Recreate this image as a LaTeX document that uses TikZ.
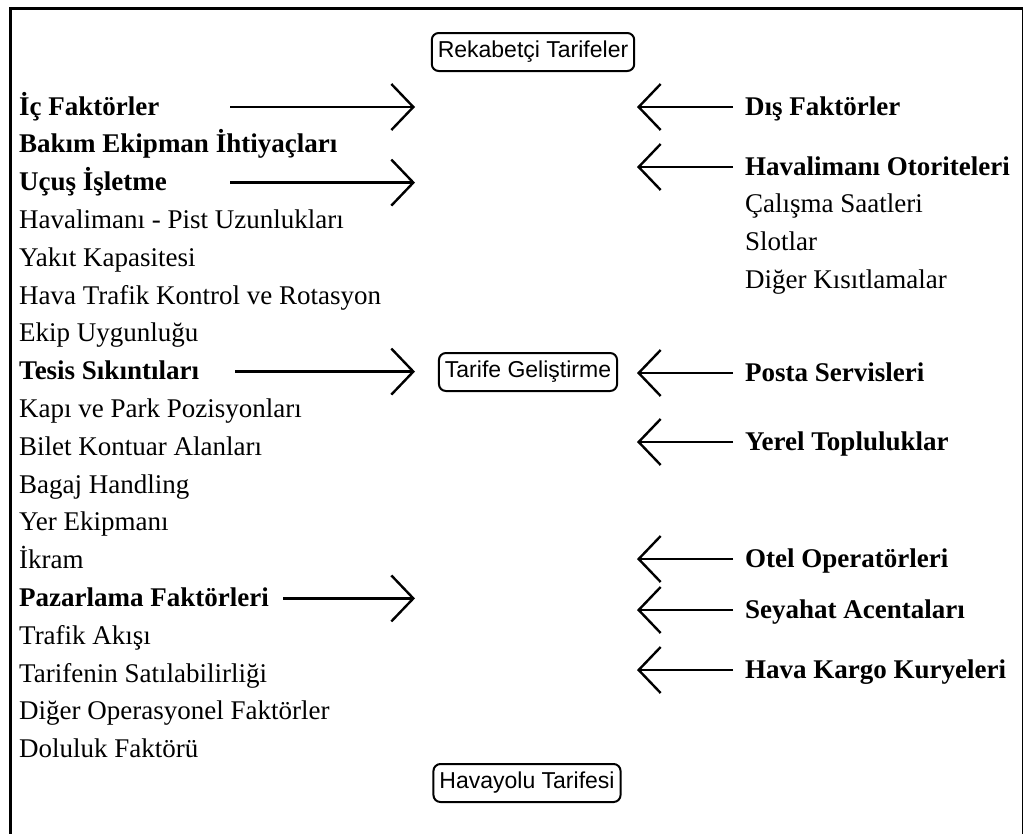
\documentclass[tikz,border=0pt]{standalone}
\usepackage{fontspec}
\setmainfont{Liberation Serif}
\setsansfont{Liberation Sans}
\usetikzlibrary{arrows.meta}

\begin{document}
\begin{tikzpicture}[x=1pt, y=-1pt,
    item/.style={anchor=base west, inner sep=0pt,
      font=\fontsize{27}{30}\selectfont},
    head/.style={item, font=\fontsize{27}{30}\selectfont\bfseries},
    tarif/.style={draw, line width=2pt, rounded corners=7pt,
      minimum height=38pt, inner xsep=6pt,
      font=\sffamily\fontsize{23}{26}\selectfont},
    flow/.style={->, >={Straight Barb[length=22pt, width=46pt]},
      line width=2.4pt}]
    \useasboundingbox (0,0) rectangle (1024,833);

    % frame, open at the bottom
    \draw [line width=3pt] (10.5,840) -- (10.5,8.5) -- (1022.5,8.5);
    \draw [line width=1pt] (1022.5,8.5) -- (1022.5,840);

    % the three boxes
    \node [tarif] (rekabet) at (533,52) {Rekabetçi Tarifeler};
    \node [tarif] (gelistirme) at (528,372) {Tarife Geliştirme};
    \node [tarif] (havayolu) at (527,783) {Havayolu Tarifesi};

    % internal factors
    \node [head] (ic) at (19,115) {İç Faktörler};
    \node [head] (bakim) at (19,152.8) {Bakım Ekipman İhtiyaçları};
    \node [head] (ucus) at (19,190.6) {Uçuş İşletme};
    \node [item] (pist) at (19,228.4) {Havalimanı - Pist Uzunlukları};
    \node [item] (yakit) at (19,266.2) {Yakıt Kapasitesi};
    \node [item] (atc) at (19,304) {Hava Trafik Kontrol ve Rotasyon};
    \node [item] (ekip) at (19,341.8) {Ekip Uygunluğu};
    \node [head] (tesis) at (19,379.6) {Tesis Sıkıntıları};
    \node [item] (kapi) at (19,417.4) {Kapı ve Park Pozisyonları};
    \node [item] (bilet) at (19,455.2) {Bilet Kontuar Alanları};
    \node [item] (bagaj) at (19,493) {Bagaj Handling};
    \node [item] (yer) at (19,530.8) {Yer Ekipmanı};
    \node [item] (ikram) at (19,568.6) {İkram};
    \node [head] (pazar) at (19,606.4) {Pazarlama Faktörleri};
    \node [item] (trafik) at (19,644.2) {Trafik Akışı};
    \node [item] (satis) at (19,682) {Tarifenin Satılabilirliği};
    \node [item] (diger) at (19,719.8) {Diğer Operasyonel Faktörler};
    \node [item] (doluluk) at (19,757.6) {Doluluk Faktörü};

    % external factors
    \node [head] (dis) at (745,115) {Dış Faktörler};
    \node [head] (otorite) at (745,175) {Havalimanı Otoriteleri};
    \node [item] (calisma) at (745,212.8) {Çalışma Saatleri};
    \node [item] (slot) at (745,250.6) {Slotlar};
    \node [item] (kisit) at (745,288.4) {Diğer Kısıtlamalar};
    \node [head] (posta) at (745,381) {Posta Servisleri};
    \node [head] (yerel) at (745,450) {Yerel Topluluklar};
    \node [head] (otel) at (745,567) {Otel Operatörleri};
    \node [head] (acente) at (745,618) {Seyahat Acentaları};
    \node [head] (kargo) at (745,678) {Hava Kargo Kuryeleri};

    % arrow ends
    \coordinate (ic-out) at (230,107);
    \coordinate (ic-in) at (415,107);
    \coordinate (ucus-out) at (230,182.6);
    \coordinate (ucus-in) at (415,182.6);
    \coordinate (tesis-out) at (235,371.6);
    \coordinate (tesis-in) at (415,371.6);
    \coordinate (pazar-out) at (283,598.4);
    \coordinate (pazar-in) at (415,598.4);

    \coordinate (dis-out) at (733,107);
    \coordinate (dis-in) at (637,107);
    \coordinate (otorite-out) at (733,167);
    \coordinate (otorite-in) at (637,167);
    \coordinate (posta-out) at (733,373);
    \coordinate (posta-in) at (637,373);
    \coordinate (yerel-out) at (733,442);
    \coordinate (yerel-in) at (637,442);
    \coordinate (otel-out) at (733,559);
    \coordinate (otel-in) at (637,559);
    \coordinate (acente-out) at (733,610);
    \coordinate (acente-in) at (637,610);
    \coordinate (kargo-out) at (733,670);
    \coordinate (kargo-in) at (637,670);

    \draw [flow] (ic-out) -- (ic-in);
    \draw [flow] (ucus-out) -- (ucus-in);
    \draw [flow] (tesis-out) -- (tesis-in);
    \draw [flow] (pazar-out) -- (pazar-in);

    \draw [flow] (dis-out) -- (dis-in);
    \draw [flow] (otorite-out) -- (otorite-in);
    \draw [flow] (posta-out) -- (posta-in);
    \draw [flow] (yerel-out) -- (yerel-in);
    \draw [flow] (otel-out) -- (otel-in);
    \draw [flow] (acente-out) -- (acente-in);
    \draw [flow] (kargo-out) -- (kargo-in);
  \end{tikzpicture}
\end{document}
